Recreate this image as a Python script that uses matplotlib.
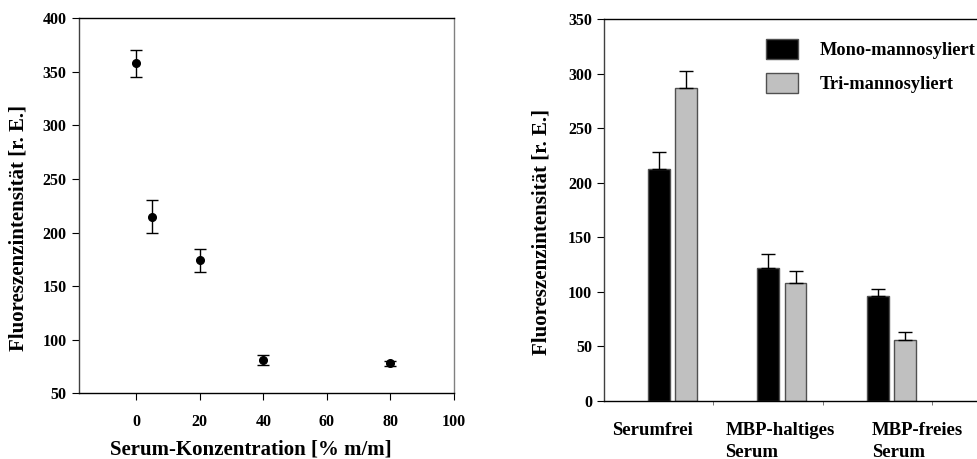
import numpy as np
import matplotlib
matplotlib.use('Agg')
from matplotlib import pyplot as plt
from matplotlib.patches import Patch

plt.rcParams['font.family'] = 'Liberation Serif'
plt.rcParams['font.weight'] = 'bold'

# serum titration
serum_conc = [0, 5, 20, 40, 80]
serum_fluo = [358, 215, 174, 81, 78]
serum_err = [12.5, 15, 11, 4.5, 2.5]

# bar chart: mono vs tri
groups = ['Serumfrei', 'MBP-haltiges\nSerum', 'MBP-freies\nSerum']
mono = [213, 122, 96]
mono_err = [15, 13, 7]
tri = [287, 108, 56]
tri_err = [15, 11, 7]

fig = plt.figure(figsize=(9.78, 4.59), dpi=100)

# left panel
ax1 = fig.add_axes([0.0808, 0.1431, 0.3834, 0.8170])
ax1.errorbar(serum_conc, serum_fluo, yerr=serum_err, fmt='o', color='black',
             markersize=5.5, capsize=4, elinewidth=1, capthick=1)
ax1.set_xlim(-18, 100)
ax1.set_ylim(50, 400)
ax1.set_xticks([0, 20, 40, 60, 80, 100])
ax1.set_yticks(np.arange(50, 401, 50))
ax1.tick_params(direction='out', length=5, width=0.8, labelsize=11.5, pad=4)
ax1.tick_params(axis='x', pad=10)
for lab in ax1.get_xticklabels() + ax1.get_yticklabels():
    lab.set_fontweight('bold')
ax1.spines['right'].set_color('#808080')
ax1.spines['left'].set_color('#404040')
for s in ax1.spines.values():
    s.set_linewidth(1)
ax1.set_xlabel('Serum-Konzentration [% m/m]', fontsize=15, fontweight='bold')
ax1.set_ylabel('Fluoreszenzintensität [r. E.]', fontsize=15, fontweight='bold')
ax1.xaxis.set_label_coords(0.459, -0.122)
ax1.yaxis.set_label_coords(-0.135, 0.441)

# right panel
ax2 = fig.add_axes([0.6176, 0.1264, 0.3916, 0.8322])
x = np.array([0.5, 1.5, 2.5])
w = 0.2
ax2.bar(x, mono, w, color='black', edgecolor='#505050', linewidth=1)
ax2.bar(x + 0.25, tri, w, color='#c0c0c0', edgecolor='#505050', linewidth=1)
ax2.errorbar(x, mono, yerr=[np.zeros(3), mono_err], fmt='none', ecolor='black',
             capsize=5, elinewidth=1, capthick=1)
ax2.errorbar(x + 0.25, tri, yerr=[np.zeros(3), tri_err], fmt='none', ecolor='black',
             capsize=5, elinewidth=1, capthick=1)
ax2.set_xlim(0, 3.5)
ax2.set_ylim(0, 350)
ax2.set_yticks(np.arange(0, 351, 50))
ax2.set_xticks([1, 2, 3])
ax2.set_xticklabels([])
ax2.tick_params(axis='x', direction='out', length=3, width=0.6, color='#606060')
ax2.tick_params(axis='y', direction='out', length=5, width=0.8, labelsize=11.5)
for lab in ax2.get_yticklabels():
    lab.set_fontweight('bold')
ax2.spines['left'].set_color('#404040')
for s in ax2.spines.values():
    s.set_linewidth(1)
ax2.set_ylabel('Fluoreszenzintensität [r. E.]', fontsize=15, fontweight='bold')
ax2.yaxis.set_label_coords(-0.136, 0.442)

label_x = [0.07, 1.11, 2.45]
for lx, g in zip(label_x, groups):
    ax2.text(lx, -0.055, g, transform=ax2.get_xaxis_transform(), ha='left', va='top',
             fontsize=13.5, fontweight='bold', linespacing=1.35)

handles = [Patch(facecolor='black', edgecolor='#505050'),
           Patch(facecolor='#c0c0c0', edgecolor='#505050')]
ax2.legend(handles, ['Mono-mannosyliert', 'Tri-mannosyliert'], loc='upper left',
           bbox_to_anchor=(0.413, 0.957), frameon=False,
           handlelength=1.75, handleheight=1.3, handletextpad=1.2, labelspacing=0.75,
           borderaxespad=0, borderpad=0.2,
           prop={'weight': 'bold', 'size': 13.2})

fig.savefig('out.png', dpi=100)
